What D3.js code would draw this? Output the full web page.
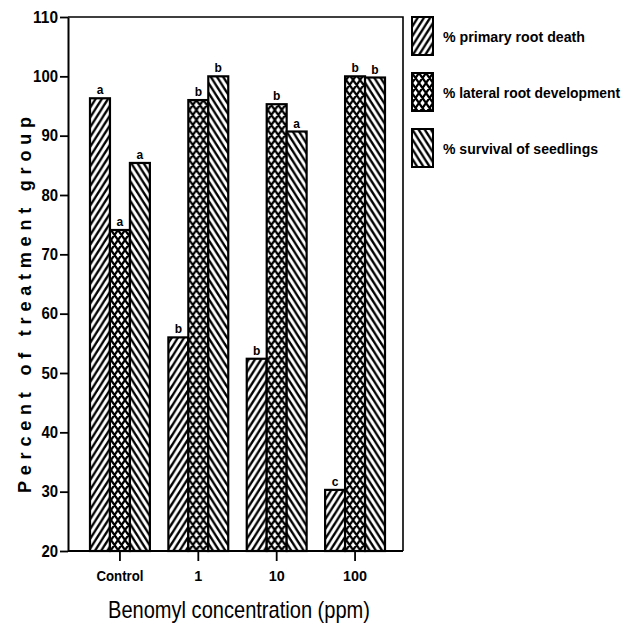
<!DOCTYPE html>
<html>
<head>
<meta charset="utf-8">
<script src="https://cdn.jsdelivr.net/npm/d3@7"></script>
<style>
  body { margin: 0; background: #fff; }
  svg { display: block; }
  text { font-family: "Liberation Sans", Arial, sans-serif; }
</style>
</head>
<body>
<div id="chart"></div>
<script>
// ---- data ----
var categories = ["Control", "1", "10", "100"];
var seriesNames = ["% primary root death", "% lateral root development", "% survival of seedlings"];
var primaryDeath = [96.3, 56, 52.4, 30.3];
var lateralDev = [74.1, 96, 95.3, 100];
var survival = [85.4, 100, 90.7, 99.8];
var primaryLetters = ["a", "b", "b", "c"];
var lateralLetters = ["a", "b", "b", "b"];
var survivalLetters = ["a", "b", "a", "b"];
var yTicks = [20, 30, 40, 50, 60, 70, 80, 90, 100, 110];

var seriesValues = [primaryDeath, lateralDev, survival];
var seriesLetters = [primaryLetters, lateralLetters, survivalLetters];
var patternIds = ["hatchFwd", "crossHatch", "hatchBack"];
var legendWidths = [142, 177, 155];

var W = 635, H = 631;
var mLeft = 68, mTop = 17, mRight = 403, mBottom = 551;

var svg = d3.select("#chart").append("svg")
  .attr("width", W).attr("height", H);

// ---- fill patterns ----
var defs = svg.append("defs");

function hatch(id, w, h, dirs, sw) {
  var p = defs.append("pattern")
    .attr("id", id)
    .attr("patternUnits", "userSpaceOnUse")
    .attr("width", w).attr("height", h);
  p.append("rect").attr("width", w).attr("height", h).attr("fill", "#fff");
  var d = "";
  dirs.forEach(function(s) {
    for (var k = -2; k <= 2; k++) {
      // line through (k*w, 0) with direction (s*w, -h)
      var x0 = k * w;
      d += "M" + (x0 - 2 * s * w) + "," + (2 * h) + "L" + (x0 + 2 * s * w) + "," + (-2 * h);
    }
  });
  p.append("path").attr("d", d)
    .attr("stroke", "#000").attr("stroke-width", sw).attr("fill", "none");
}
hatch("hatchFwd", 6.2, 9.8, [1], 2.3);
hatch("hatchBack", 6.2, 9.8, [-1], 2.3);
hatch("crossHatch", 7, 10, [1, -1], 2.2);

// ---- scales ----
var x0 = d3.scaleBand()
  .domain(categories)
  .range([mLeft + 22, mLeft + 317])
  .paddingInner(0.236)
  .paddingOuter(0);

var x1 = d3.scaleBand()
  .domain(d3.range(seriesNames.length))
  .range([0, x0.bandwidth()]);

var y = d3.scaleLinear().domain([20, 110]).range([mBottom, mTop]);

// ---- bars ----
function cells(d, i) {
  return seriesValues.map(function(vals, s) {
    return { s: s, v: vals[i], letter: seriesLetters[s][i] };
  });
}

var groups = svg.append("g").selectAll("g")
  .data(categories)
  .join("g")
  .attr("transform", function(d) { return "translate(" + x0(d) + ",0)"; });

groups.selectAll("rect")
  .data(cells)
  .join("rect")
  .attr("x", function(d) { return x1(d.s); })
  .attr("y", function(d) { return y(d.v); })
  .attr("width", x1.bandwidth())
  .attr("height", function(d) { return y(20) - y(d.v); })
  .attr("fill", function(d) { return "url(#" + patternIds[d.s] + ")"; })
  .attr("stroke", "#000")
  .attr("stroke-width", 2.2);

groups.selectAll("text")
  .data(cells)
  .join("text")
  .attr("x", function(d) { return x1(d.s) + x1.bandwidth() / 2; })
  .attr("y", function(d) { return y(d.v) - 4; })
  .attr("text-anchor", "middle")
  .attr("font-weight", "bold")
  .attr("font-size", 12)
  .text(function(d) { return d.letter; });

// ---- frame (top and right) ----
svg.append("path")
  .attr("d", "M" + mLeft + "," + mTop + "H" + mRight + "V" + mBottom)
  .attr("fill", "none").attr("stroke", "#000").attr("stroke-width", 1.6);

// ---- axes ----
var yAxis = svg.append("g")
  .attr("transform", "translate(" + mLeft + ",0)")
  .call(d3.axisLeft(y).tickValues(yTicks).tickSize(8).tickPadding(2).tickSizeOuter(0));
yAxis.select(".domain").attr("stroke-width", 2);
yAxis.selectAll(".tick line").attr("stroke-width", 1.8);
yAxis.selectAll("text")
  .attr("font-family", "'Liberation Sans', Arial, sans-serif")
  .attr("font-size", 16)
  .attr("font-weight", "bold")
  .attr("fill", "#000")
  .attr("textLength", function(d) { return String(d).length * 8.3; })
  .attr("lengthAdjust", "spacingAndGlyphs");

var xAxis = svg.append("g")
  .attr("transform", "translate(0," + mBottom + ")")
  .call(d3.axisBottom(x0).tickSize(10).tickPadding(9).tickSizeOuter(0));
xAxis.select(".domain").attr("d", "M" + mLeft + ",0H" + mRight).attr("stroke-width", 2.2);
xAxis.selectAll(".tick line").attr("stroke-width", 1.8);
xAxis.selectAll("text")
  .attr("font-family", "'Liberation Sans', Arial, sans-serif")
  .attr("font-size", 15)
  .attr("font-weight", "bold")
  .attr("fill", "#000")
  .attr("textLength", function(d) { return d === "Control" ? 47 : d.length * 8; })
  .attr("lengthAdjust", "spacingAndGlyphs");

// ---- axis titles ----
svg.append("text")
  .attr("x", 108)
  .attr("y", 618)
  .attr("font-size", 24)
  .attr("textLength", 262)
  .attr("lengthAdjust", "spacingAndGlyphs")
  .text("Benomyl concentration (ppm)");

svg.append("text")
  .attr("transform", "translate(31,305) rotate(-90)")
  .attr("text-anchor", "middle")
  .attr("font-weight", "bold")
  .attr("font-size", 18)
  .attr("textLength", 376)
  .attr("lengthAdjust", "spacing")
  .text("Percent of treatment group");

// ---- legend ----
var legend = svg.append("g").selectAll("g")
  .data(seriesNames)
  .join("g")
  .attr("transform", function(d, i) { return "translate(412," + (17 + i * 56) + ")"; });

legend.append("rect")
  .attr("width", 21).attr("height", 38)
  .attr("fill", function(d, i) { return "url(#" + patternIds[i] + ")"; })
  .attr("stroke", "#000").attr("stroke-width", 2);

legend.append("text")
  .attr("x", 31)
  .attr("y", 25)
  .attr("font-size", 14.5)
  .attr("font-weight", "bold")
  .attr("textLength", function(d, i) { return legendWidths[i]; })
  .attr("lengthAdjust", "spacingAndGlyphs")
  .text(function(d) { return d; });
</script>
</body>
</html>
